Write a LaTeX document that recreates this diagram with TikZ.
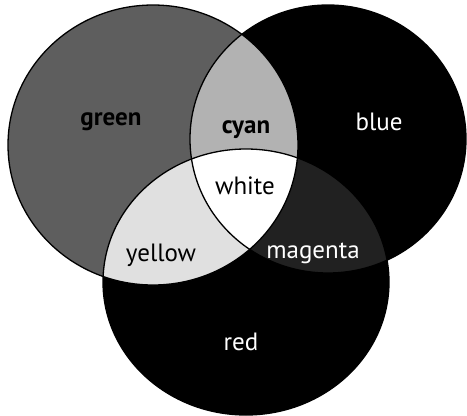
\documentclass[tikz,border=0pt]{standalone}
\usepackage{fontspec}
\setmainfont{PT Sans}
\begin{document}
\begin{tikzpicture}[x=1pt,y=-1pt,
  lab/.style={font=\fontsize{25}{28}\selectfont, inner sep=0pt},
  boldlab/.style={font=\fontsize{25}{28}\selectfont\bfseries, inner sep=0pt},
  edge/.style={draw=black, line width=1.3pt}]
\useasboundingbox (0,0) rectangle (467,416);
\def\green{(153,145) ellipse [x radius=145, y radius=140]}
\def\blue{(328,139) ellipse [x radius=138, y radius=134]}
\def\red{(246,282) ellipse [x radius=143, y radius=133]}
\definecolor{cgreen}{gray}{0.37}
\definecolor{ccyan}{gray}{0.70}
\definecolor{cyellow}{gray}{0.88}
\definecolor{cmagenta}{gray}{0.13}
% base circles
\fill[cgreen] \green;
\fill[black] \blue;
\fill[black] \red;
% overlaps
\begin{scope}\clip \green; \fill[ccyan] \blue; \end{scope}
\begin{scope}\clip \green; \fill[cyellow] \red; \end{scope}
\begin{scope}\clip \blue; \fill[cmagenta] \red; \end{scope}
\begin{scope}\clip \green; \clip \blue; \fill[white] \red; \end{scope}
% outlines
\draw[edge] \green;
\draw[edge] \blue;
\draw[edge] \red;
% labels
\node[boldlab, text=black] (g) at (111,122) {green};
\node[boldlab, text=black] (c) at (246,130) {cyan};
\node[lab, text=white] (b) at (379,122) {blue};
\node[lab, text=black] (w) at (245,186) {white};
\node[lab, text=black] (y) at (161,255) {yellow};
\node[lab, text=white] (m) at (313,253) {magenta};
\node[lab, text=white] (r) at (241,342) {red};
\end{tikzpicture}
\end{document}
